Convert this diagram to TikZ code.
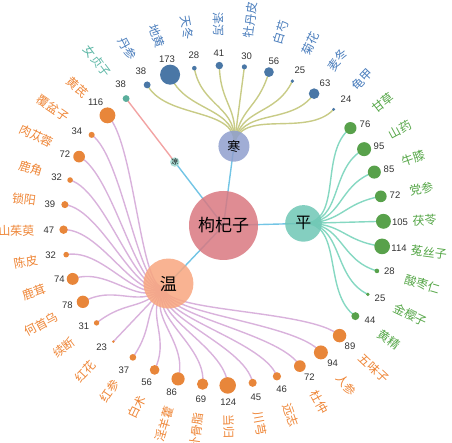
\documentclass[tikz,border=0pt]{standalone}
\usepackage{fontspec}
\newfontfamily\cjk{Noto Sans CJK SC}
\newfontfamily\numfont{Liberation Sans}
\definecolor{rootFill}{HTML}{D97880}
\definecolor{hanFill}{HTML}{8F9FCE}
\definecolor{pingFill}{HTML}{6FC7B5}
\definecolor{wenFill}{HTML}{F8A67F}
\definecolor{liangFill}{HTML}{9ED8CF}
\definecolor{rootEdge}{HTML}{73C5E5}
\definecolor{hanEdge}{HTML}{C8CB86}
\definecolor{pingEdge}{HTML}{86D8C2}
\definecolor{wenEdge}{HTML}{D9B2DC}
\definecolor{liangEdge}{HTML}{F2A3A3}
\definecolor{hanDot}{HTML}{4A77A6}
\definecolor{hanText}{HTML}{4A7DBC}
\definecolor{liangDot}{HTML}{5AAE9C}
\definecolor{liangText}{HTML}{5DB7A6}
\definecolor{wenDot}{HTML}{E8863A}
\definecolor{wenText}{HTML}{EE8536}
\definecolor{pingDot}{HTML}{58A14B}
\definecolor{pingText}{HTML}{55A647}
\definecolor{valCol}{HTML}{333333}
\pgfdeclarelayer{bg}
\pgfsetlayers{bg,main}
\tikzset{
  catnode/.style={circle, inner sep=0, fill opacity=0.85, text opacity=1, text=black},
  leafdot/.style={circle, inner sep=0, draw=none},
  valtext/.style={inner sep=0, text=valCol, font=\numfont\fontsize{9.5}{10}\selectfont},
  nametext/.style={inner sep=0, font=\cjk\fontsize{12}{12}\selectfont},
  edgeline/.style={line width=1.4pt},
}
\newcommand\placename[4]{% angle, name, color, node name
  \pgfmathtruncatemacro\isleft{cos(#1)<0}%
  \ifnum\isleft=1
    \node[nametext, text=#3, rotate=#1-180, anchor=east] (#4) at (#1:189) {#2};
  \else
    \node[nametext, text=#3, rotate=#1, anchor=west] (#4) at (#1:189) {#2};
  \fi
}
\begin{document}
\begin{tikzpicture}[x=1pt,y=1pt]
\useasboundingbox (-223.5,-217.5) rectangle (228.5,225.5);
% central and category nodes
\node[catnode, fill=rootFill, minimum size=69pt, font=\cjk\fontsize{17}{17}\selectfont] (root) at (0,0) {枸杞子};
\node[catnode, fill=hanFill, minimum size=31pt, font=\cjk\fontsize{13}{13}\selectfont] (han) at (82.5:80) {寒};
\node[catnode, fill=pingFill, minimum size=36.6pt, font=\cjk\fontsize{16}{16}\selectfont] (ping) at (1.5:80) {平};
\node[catnode, fill=wenFill, minimum size=50pt, font=\cjk\fontsize{17}{17}\selectfont] (wen) at (226.5:80) {温};
\node[catnode, fill=liangFill, minimum size=5pt, font=\cjk\fontsize{7}{7}\selectfont] (liang) at (127.5:80) {凉};
\begin{pgfonlayer}{bg}
  \foreach \c in {han,ping,wen,liang}{
    \draw[edgeline, rootEdge] (root.center) -- (\c.center);
  }
\end{pgfonlayer}
% cold
\foreach \k/\nm/\v/\vx/\vy in {0/龟甲/24/122.5/126.5, 1/麦冬/63/101.5/142.5, 2/菊花/25/76.5/155.5, 3/白芍/56/50.5/164.5, 4/牡丹皮/30/23.2/169.5, 5/泽泻/41/-4.5/172.5, 6/天冬/28/-29.5/170.5, 7/地黄/173/-56.5/166.5, 8/丹参/38/-82.5/154.5}{
  \pgfmathsetmacro\ang{46.5+9*\k}
  \pgfmathsetmacro\dsz{1.62*sqrt(\v-20)}
  \node[leafdot, fill=hanDot, minimum size=\dsz pt] (l\k) at (\ang:160) {};
  \node[valtext] (v\k) at (\vx,\vy) {\v};
  \placename{\ang}{\nm}{hanText}{n\k}
  \begin{pgfonlayer}{bg}
    \draw[edgeline, hanEdge] (han.center) .. controls (82.5:120) and (\ang:120) .. (l\k.center);
  \end{pgfonlayer}
}
% cool
\foreach \k/\nm/\v/\vx/\vy in {9/女贞子/38/-102.8/141.5}{
  \pgfmathsetmacro\ang{46.5+9*\k}
  \pgfmathsetmacro\dsz{1.62*sqrt(\v-20)}
  \node[leafdot, fill=liangDot, minimum size=\dsz pt] (l\k) at (\ang:160) {};
  \node[valtext] (v\k) at (\vx,\vy) {\v};
  \placename{\ang}{\nm}{liangText}{n\k}
  \begin{pgfonlayer}{bg}
    \draw[edgeline, liangEdge] (liang.center) .. controls (127.5:120) and (\ang:120) .. (l\k.center);
  \end{pgfonlayer}
}
% warm
\foreach \k/\nm/\v/\vx/\vy in {10/黄芪/116/-127.8/122.8, 11/覆盆子/34/-146.5/94.5, 12/肉苁蓉/72/-158.5/71.5, 13/鹿角/32/-166.8/48.5, 14/锁阳/39/-173.5/21.5, 15/山茱萸/47/-174.5/-4.5, 16/陈皮/32/-172.8/-30.2, 17/鹿茸/74/-164.2/-53.5, 18/何首乌/78/-156.2/-80.2, 19/续断/31/-139.5/-100.5, 20/红花/23/-121.8/-121.8, 21/红参/37/-99.5/-144.5, 22/白术/56/-76.8/-157.2, 23/淫羊藿/86/-51.8/-167.2, 24/补骨脂/69/-22.5/-173.5, 25/当归/124/4.8/-176.2, 26/川芎/45/32.5/-171.8, 27/远志/46/58.2/-163.5, 28/杜仲/72/85.8/-151.8, 29/人参/94/109.2/-137.8, 30/五味子/89/126.5/-120.5}{
  \pgfmathsetmacro\ang{46.5+9*\k}
  \pgfmathsetmacro\dsz{1.62*sqrt(\v-20)}
  \node[leafdot, fill=wenDot, minimum size=\dsz pt] (l\k) at (\ang:160) {};
  \node[valtext] (v\k) at (\vx,\vy) {\v};
  \placename{\ang}{\nm}{wenText}{n\k}
  \begin{pgfonlayer}{bg}
    \draw[edgeline, wenEdge] (wen.center) .. controls (226.5:120) and (\ang:120) .. (l\k.center);
  \end{pgfonlayer}
}
% neutral
\foreach \k/\nm/\v/\vx/\vy in {31/黄精/44/146.5/-95.2, 32/金樱子/25/156.5/-72.8, 33/酸枣仁/28/165.8/-46.2, 34/菟丝子/114/175.5/-22.8, 35/茯苓/105/176.5/3.2, 36/党参/72/171.5/30.5, 37/牛膝/85/165.5/56.5, 38/山药/95/155.5/79.5, 39/甘草/76/141.5/101.2}{
  \pgfmathsetmacro\ang{46.5+9*\k}
  \pgfmathsetmacro\dsz{1.62*sqrt(\v-20)}
  \node[leafdot, fill=pingDot, minimum size=\dsz pt] (l\k) at (\ang:160) {};
  \node[valtext] (v\k) at (\vx,\vy) {\v};
  \placename{\ang}{\nm}{pingText}{n\k}
  \begin{pgfonlayer}{bg}
    \draw[edgeline, pingEdge] (ping.center) .. controls (361.5:120) and (\ang:120) .. (l\k.center);
  \end{pgfonlayer}
}
\end{tikzpicture}
\end{document}
